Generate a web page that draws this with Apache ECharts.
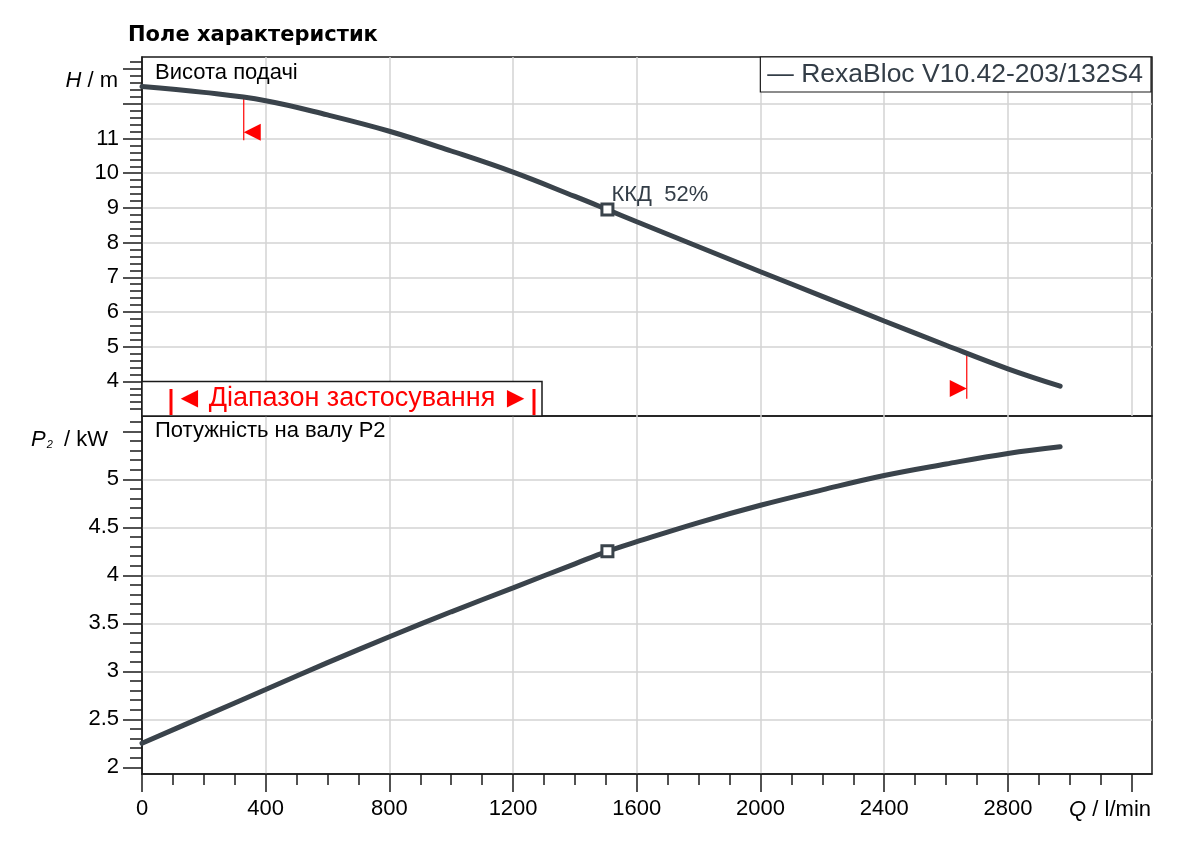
<!doctype html>
<html lang="uk">
<head>
    <meta charset="UTF-8">
    <title>Поле характеристик</title>
    <style>
        html, body { margin: 0; padding: 0; background: #fff; }
        #chart { width: 1200px; height: 866px; }
    </style>
</head>
<body>
<div id="chart"></div>
<script src="https://cdn.jsdelivr.net/npm/echarts@6.0.0/dist/echarts.min.js"></script>
<script>
    var chartTitle = 'Поле характеристик';
    var pumpName = 'RexaBloc V10.42-203/132S4';

    // Q, l/min
    var flow  = [0, 200, 400, 600, 800, 1000, 1200, 1400, 1505, 1600, 1800, 2000, 2200, 2400, 2600, 2800, 2969];
    // H, m
    var head  = [12.50, 12.33, 12.09, 11.68, 11.21, 10.64, 10.03, 9.33, 8.95, 8.60, 7.88, 7.16, 6.45, 5.74, 5.04, 4.36, 3.86];
    // P2, kW
    var power = [2.25, 2.53, 2.81, 3.09, 3.36, 3.62, 3.87, 4.12, 4.25, 4.35, 4.55, 4.73, 4.89, 5.04, 5.16, 5.27, 5.34];

    // best efficiency point
    var bepFlow = 1505;
    var bepHead = 8.95;
    var bepPower = 4.25;
    var bepEff = 52;

    // limits of the operating range
    var limitFlow   = [329, 2667];
    var limitTop    = [12.21, 4.76];
    var limitBottom = [10.95, 3.50];
    var limitArrow  = [11.18, 3.79];

    // ticks and labels
    var qTicks  = [0, 400, 800, 1200, 1600, 2000, 2400, 2800, 3200];
    var qLabels = [0, 400, 800, 1200, 1600, 2000, 2400, 2800];
    var hTicks  = [4, 5, 6, 7, 8, 9, 10, 11, 12, 13];
    var hLabels = [4, 5, 6, 7, 8, 9, 10, 11];
    var pTicks  = [2, 2.5, 3, 3.5, 4, 4.5, 5, 5.5];
    var pLabels = [2, 2.5, 3, 3.5, 4, 4.5, 5];

    var curveColor = '#3a434b';
    var gridColor = '#d3d3d3';
    var frameColor = '#1a1a1a';
    var fontName = '"Liberation Sans", Arial, sans-serif';

    function pairs(xs, ys) {
        return xs.map(function (x, i) { return [x, ys[i]]; });
    }

    function only(list) {
        return function (v) {
            return list.indexOf(Math.round(v * 100) / 100) >= 0 ? String(v) : '';
        };
    }

    var tickLine = { color: frameColor, width: 1.5 };
    var split = { show: true, showMinLine: false, showMaxLine: false, lineStyle: { color: gridColor, width: 1.5 } };
    var labelStyle = { fontSize: 22, color: '#000', fontFamily: fontName };

    var chart = echarts.init(document.getElementById('chart'));

    var limitLines = limitFlow.map(function (q, i) {
        return {
            type: 'line', xAxisIndex: 0, yAxisIndex: 0, silent: true,
            symbol: 'none', z: 3,
            lineStyle: { color: '#ff0000', width: 1.2 },
            data: [[q, limitTop[i]], [q, limitBottom[i]]]
        };
    });

    var option = {
        animation: false,
        legend: {
            data: [pumpName],
            right: 49, top: 57,
            icon: 'none', itemWidth: 0, itemHeight: 0,
            formatter: '— {name}',
            selectedMode: false,
            backgroundColor: '#fff',
            borderColor: frameColor, borderWidth: 1.2,
            padding: [4, 8, 4, 2],
            textStyle: { fontSize: 26.5, color: '#333d47', fontFamily: fontName }
        },
        grid: [
            { left: 142, top: 57, width: 1010, height: 359, show: true, borderColor: frameColor, borderWidth: 1.5 },
            { left: 142, top: 416, width: 1010, height: 358, show: true, borderColor: frameColor, borderWidth: 1.5 }
        ],
        xAxis: [
            {
                gridIndex: 0, type: 'value', min: 0, max: 3266, interval: 400,
                axisLine: { show: false }, axisTick: { show: false }, axisLabel: { show: false },
                splitLine: split
            },
            {
                gridIndex: 1, type: 'value', min: 0, max: 3266, interval: 400,
                axisLine: { show: true, lineStyle: tickLine },
                axisTick: { show: true, length: 18, customValues: qTicks, lineStyle: tickLine },
                minorTick: { show: true, splitNumber: 4, length: 11, lineStyle: tickLine },
                axisLabel: Object.assign({ customValues: qLabels, margin: 24, formatter: only(qLabels) }, labelStyle),
                splitLine: split
            }
        ],
        yAxis: [
            {
                gridIndex: 0, type: 'value', min: 3, max: 13.35, interval: 1,
                axisLine: { show: true, lineStyle: tickLine },
                axisTick: { show: true, length: 19, customValues: hTicks, lineStyle: tickLine },
                minorTick: { show: true, splitNumber: 5, length: 12, lineStyle: tickLine },
                axisLabel: Object.assign({ customValues: hLabels, margin: 23, formatter: only(hLabels) }, labelStyle),
                splitLine: split
            },
            {
                gridIndex: 1, type: 'value', min: 1.93, max: 5.66, splitNumber: 7,
                axisLine: { show: true, lineStyle: tickLine },
                axisTick: { show: true, length: 19, customValues: pTicks, lineStyle: tickLine },
                minorTick: { show: true, splitNumber: 5, length: 12, lineStyle: tickLine },
                axisLabel: Object.assign({ customValues: pLabels, margin: 23, formatter: only(pLabels) }, labelStyle),
                splitLine: split
            }
        ],
        series: [
            {
                name: pumpName, type: 'line', xAxisIndex: 0, yAxisIndex: 0,
                smooth: 0.4, showSymbol: false, silent: true, z: 4,
                color: curveColor,
                lineStyle: { color: curveColor, width: 5, cap: 'round' },
                data: pairs(flow, head)
            },
            {
                name: 'P2', type: 'line', xAxisIndex: 1, yAxisIndex: 1,
                smooth: 0.4, showSymbol: false, silent: true, z: 4,
                lineStyle: { color: curveColor, width: 5, cap: 'round' },
                data: pairs(flow, power)
            },
            {
                type: 'scatter', xAxisIndex: 0, yAxisIndex: 0, z: 6, silent: true,
                symbol: 'rect', symbolSize: 11,
                itemStyle: { color: '#fff', borderColor: curveColor, borderWidth: 3, opacity: 1 },
                label: {
                    show: true, position: 'right', offset: [-8, -15],
                    formatter: 'ККД  ' + bepEff + '%',
                    fontSize: 22, color: '#333d47', fontFamily: fontName
                },
                data: [[bepFlow, bepHead]]
            },
            {
                type: 'scatter', xAxisIndex: 1, yAxisIndex: 1, z: 6, silent: true,
                symbol: 'rect', symbolSize: 11,
                itemStyle: { color: '#fff', borderColor: curveColor, borderWidth: 3, opacity: 1 },
                data: [[bepFlow, bepPower]]
            },
            {
                type: 'scatter', xAxisIndex: 0, yAxisIndex: 0, z: 5, silent: true,
                symbol: 'triangle', symbolSize: 17,
                itemStyle: { color: '#ff0000', opacity: 1 },
                data: [
                    { value: [limitFlow[0], limitArrow[0]], symbolRotate: 90, symbolOffset: [8.5, 0] },
                    { value: [limitFlow[1], limitArrow[1]], symbolRotate: -90, symbolOffset: [-8.5, 0] }
                ]
            }
        ].concat(limitLines),
        graphic: [
            { type: 'text', x: 128, y: 36, z: 50,
              style: { text: chartTitle, font: 'bold 21px "DejaVu Sans"', fill: '#000', verticalAlign: 'middle' } },
            { type: 'text', x: 118, y: 81, z: 50,
              style: { text: '{i|H} / m', fontSize: 22, fontFamily: fontName, fill: '#000', align: 'right', verticalAlign: 'middle',
                       rich: { i: { fontStyle: 'italic', fontSize: 22, fontFamily: fontName } } } },
            { type: 'text', x: 108, y: 440, z: 50,
              style: { text: '{i|P}{s|2} / kW', fontSize: 22, fontFamily: fontName, fill: '#000', align: 'right', verticalAlign: 'middle',
                       rich: { i: { fontStyle: 'italic', fontSize: 22, fontFamily: fontName },
                               s: { fontStyle: 'italic', fontSize: 11, fontFamily: fontName, padding: [10, 5, 0, 1] } } } },
            { type: 'text', x: 155, y: 73, z: 50,
              style: { text: 'Висота подачі', fontSize: 22, fontFamily: fontName, fill: '#000', verticalAlign: 'middle' } },
            { type: 'text', x: 155, y: 431, z: 50,
              style: { text: 'Потужність на валу P2', fontSize: 22, fontFamily: fontName, fill: '#000', verticalAlign: 'middle' } },
            { type: 'text', x: 1151, y: 810, z: 50,
              style: { text: '{i|Q} / l/min', fontSize: 22, fontFamily: fontName, fill: '#000', align: 'right', verticalAlign: 'middle',
                       rich: { i: { fontStyle: 'italic', fontSize: 22, fontFamily: fontName } } } },
            // operating range box
            { type: 'rect', z: 40, shape: { x: 142, y: 381.5, width: 400, height: 34.5 },
              style: { fill: '#fff', stroke: frameColor, lineWidth: 1.5 } },
            { type: 'rect', z: 41, shape: { x: 169.5, y: 389, width: 3, height: 26 }, style: { fill: '#ff0000' } },
            { type: 'rect', z: 41, shape: { x: 532.5, y: 389, width: 3, height: 26 }, style: { fill: '#ff0000' } },
            { type: 'text', x: 175, y: 399, z: 41,
              style: { text: '◄', fontSize: 29, fontFamily: fontName, fill: '#ff0000', verticalAlign: 'middle' } },
            { type: 'text', x: 352, y: 399, z: 41,
              style: { text: 'Діапазон застосування', fontSize: 27, fontFamily: fontName, fill: '#ff0000',
                       align: 'center', verticalAlign: 'middle' } },
            { type: 'text', x: 530, y: 399, z: 41,
              style: { text: '►', fontSize: 29, fontFamily: fontName, fill: '#ff0000', align: 'right', verticalAlign: 'middle' } }
        ]
    };

    chart.setOption(option);
</script>
</body>
</html>
